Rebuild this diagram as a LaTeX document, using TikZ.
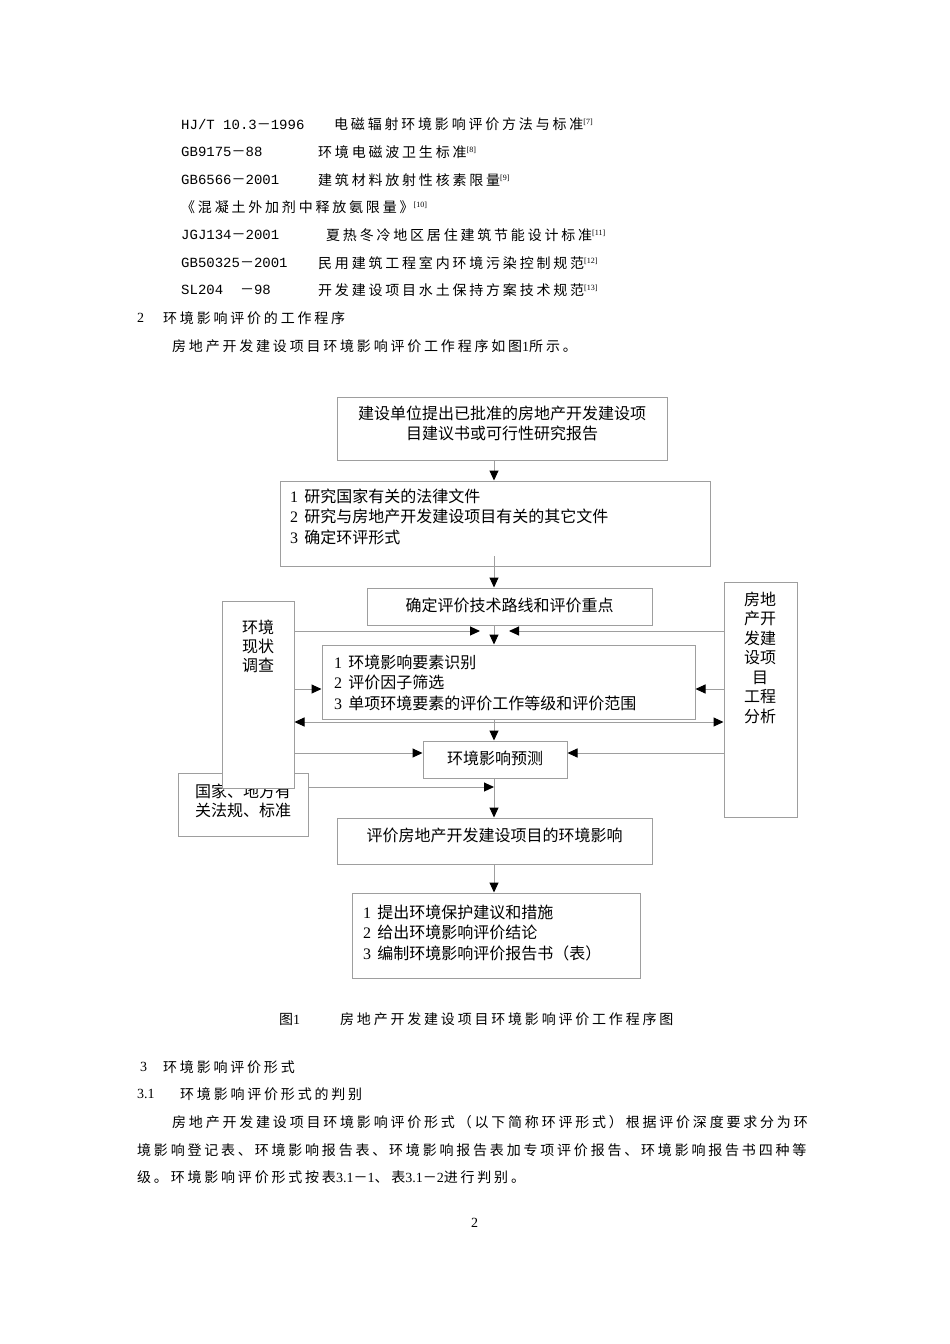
\documentclass[tikz,border=0pt]{standalone}
\usepackage{fontspec}
\setmainfont{Liberation Serif}
\newfontfamily\cjk{Noto Sans CJK SC}
\newfontfamily\cjks[LetterSpace=20]{Noto Sans CJK SC}
\newfontfamily\mono{Liberation Mono}
\usetikzlibrary{arrows.meta}
\newcommand\refsup[1]{\raisebox{5pt}{\rmfamily\fontsize{8}{8}\selectfont[#1]}}
\newcommand\cd[1]{{\mono\fontsize{14}{14}\selectfont #1}}
\newcommand\fw{{\cjk\fontsize{14}{14}\selectfont －}}
\newcommand\dg[1]{{\rmfamily #1}}
\begin{document}
\begin{tikzpicture}[x=1pt,y=-1pt,
  box/.style={draw=black!38, line width=1pt, fill=white, inner sep=0pt},
  conn/.style={draw=black!38, line width=1pt},
  arr/.style={conn, -{Triangle[length=10pt,width=9pt,color=black,fill=black]}},
  darr/.style={conn, {Triangle[length=10pt,width=9pt,color=black,fill=black]}-{Triangle[length=10pt,width=9pt,color=black,fill=black]}},
  txt/.style={inner sep=0pt, anchor=west, font=\cjks\fontsize{14}{14}\selectfont},
  num/.style={inner sep=0pt, anchor=west, font=\rmfamily\fontsize{14}{14}\selectfont},
  code/.style={inner sep=0pt, anchor=west},
  dtxt/.style={inner sep=0pt, font=\cjk\fontsize{16}{20.5}\selectfont, align=left},
  dctr/.style={inner sep=0pt, font=\cjk\fontsize{16}{20}\selectfont, align=center}
]
\fill[white] (0,0) rectangle (950,1344);
\useasboundingbox (0,0) rectangle (950,1344);

% ---------- upper text ----------
\node[code] (c1) at (181,124) {\cd{HJ/T 10.3}\fw\cd{1996}};
\node[txt] (s1) at (334,124) {电磁辐射环境影响评价方法与标准\refsup{7}};
\node[code] (c2) at (181,152) {\cd{GB9175}\fw\cd{88}};
\node[txt] (s2) at (318,152) {环境电磁波卫生标准\refsup{8}};
\node[code] (c3) at (181,180) {\cd{GB6566}\fw\cd{2001}};
\node[txt] (s3) at (318,180) {建筑材料放射性核素限量\refsup{9}};
\node[txt] (s4) at (181,207) {《混凝土外加剂中释放氨限量》\refsup{10}};
\node[code] (c5) at (181,235) {\cd{JGJ134}\fw\cd{2001}};
\node[txt] (s5) at (326,235) {夏热冬冷地区居住建筑节能设计标准\refsup{11}};
\node[code] (c6) at (181,263) {\cd{GB50325}\fw\cd{2001}};
\node[txt] (s6) at (318,263) {民用建筑工程室内环境污染控制规范\refsup{12}};
\node[code] (c7) at (181,290) {\cd{SL204\ \ }\fw\cd{98}};
\node[txt] (s7) at (318,290) {开发建设项目水土保持方案技术规范\refsup{13}};
\node[num] (h2n) at (137,318) {2};
\node[txt] (h2) at (163,318) {环境影响评价的工作程序};
\node[txt] (p0) at (172,346) {房地产开发建设项目环境影响评价工作程序如图\dg{1}所示。};

% ---------- diagram boxes ----------
\node[box, minimum width=330, minimum height=63] (A) at (502,428.5) {};
\node[dctr] (At) at (502,423) {建设单位提出已批准的房地产开发建设项\\目建议书或可行性研究报告};

\node[box, minimum width=430, minimum height=85] (B) at (495,523.5) {};
\node[dtxt, anchor=west] (Bt) at (290,516.5) {\dg{1}\, 研究国家有关的法律文件\\\dg{2}\, 研究与房地产开发建设项目有关的其它文件\\\dg{3}\, 确定环评形式};

\node[box, minimum width=285, minimum height=37] (C) at (509.5,606.5) {};
\node[dctr] (Ct) at (509.5,605) {确定评价技术路线和评价重点};

\node[box, minimum width=130, minimum height=63] (N) at (243,804.5) {};
\node[dtxt, anchor=west, font=\cjk\fontsize{16}{19.5}\selectfont] (Nt) at (195,801) {国家、地方有\\关法规、标准};

\node[box, minimum width=72, minimum height=187] (L) at (258,694.5) {};
\node[dctr, font=\cjk\fontsize{16}{19}\selectfont] (Lt) at (258,646) {环境\\现状\\调查};

\node[box, minimum width=73, minimum height=235] (R) at (760.5,699.5) {};
\node[dctr, font=\cjk\fontsize{16}{19.5}\selectfont] (Rt) at (760,657.5) {房地\\产开\\发建\\设项\\目\\工程\\分析};

\node[box, minimum width=373, minimum height=74] (D) at (508.5,682) {};
\node[dtxt, anchor=west] (Dt) at (334,682.5) {\dg{1}\, 环境影响要素识别\\\dg{2}\, 评价因子筛选\\\dg{3}\, 单项环境要素的评价工作等级和评价范围};

\node[box, minimum width=144, minimum height=37] (E) at (495,759.5) {};
\node[dctr] (Et) at (495,758) {环境影响预测};

\node[box, minimum width=315, minimum height=46] (F) at (494.5,841) {};
\node[dctr] (Ft) at (494.5,835) {评价房地产开发建设项目的环境影响};

\node[box, minimum width=288, minimum height=85] (G) at (496,935.5) {};
\node[dtxt, anchor=west] (Gt) at (363,932.5) {\dg{1}\, 提出环境保护建议和措施\\\dg{2}\, 给出环境影响评价结论\\\dg{3}\, 编制环境影响评价报告书（表）};

% ---------- connectors ----------
\coordinate (mx) at (494,0);
\coordinate (b0) at (494,556);
\coordinate (h1l) at (480,631);
\coordinate (h1r) at (509,631);
\coordinate (y2) at (0,689);
\coordinate (y3) at (0,722);
\coordinate (y4) at (0,753);
\coordinate (h5) at (494,787);

\draw[arr] (A.south -| mx) -- (B.north -| mx);
\draw[arr] (b0) -- (C.north -| b0);
\draw[arr] (C.south -| mx) -- (D.north -| mx);
\draw[arr] (L.east |- h1l) -- (h1l);
\draw[arr] (R.west |- h1r) -- (h1r);
\draw[arr] (L.east |- y2) -- (D.west |- y2);
\draw[arr] (R.west |- y2) -- (D.east |- y2);
\draw[darr] (L.east |- y3) -- (R.west |- y3);
\draw[arr] (D.south -| mx) -- (E.north -| mx);
\draw[arr] (L.east |- y4) -- (E.west |- y4);
\draw[arr] (R.west |- y4) -- (E.east |- y4);
\draw[arr] (N.east |- h5) -- (h5);
\draw[arr] (E.south -| mx) -- (F.north -| mx);
\draw[arr] (F.south -| mx) -- (G.north -| mx);

% ---------- caption and lower text ----------
\node[txt] (capn) at (279,1019) {图\dg{1}};
\node[txt] (cap) at (340,1019) {房地产开发建设项目环境影响评价工作程序图};
\node[num] (h3n) at (140,1067) {3};
\node[txt] (h3) at (163,1067) {环境影响评价形式};
\node[num] (h31n) at (137,1094) {3.1};
\node[txt] (h31) at (180,1094) {环境影响评价形式的判别};
\node[txt] (p1) at (172,1122) {房地产开发建设项目环境影响评价形式（以下简称环评形式）根据评价深度要求分为环};
\node[txt] (p2) at (137,1150) {境影响登记表、环境影响报告表、环境影响报告表加专项评价报告、环境影响报告书四种等};
\node[txt] (p3) at (137,1177) {级。环境影响评价形式按表\dg{3.1}－\dg{1}、表\dg{3.1}－\dg{2}进行判别。};
\node[num] (pg) at (471,1223) {2};
\end{tikzpicture}
\end{document}
